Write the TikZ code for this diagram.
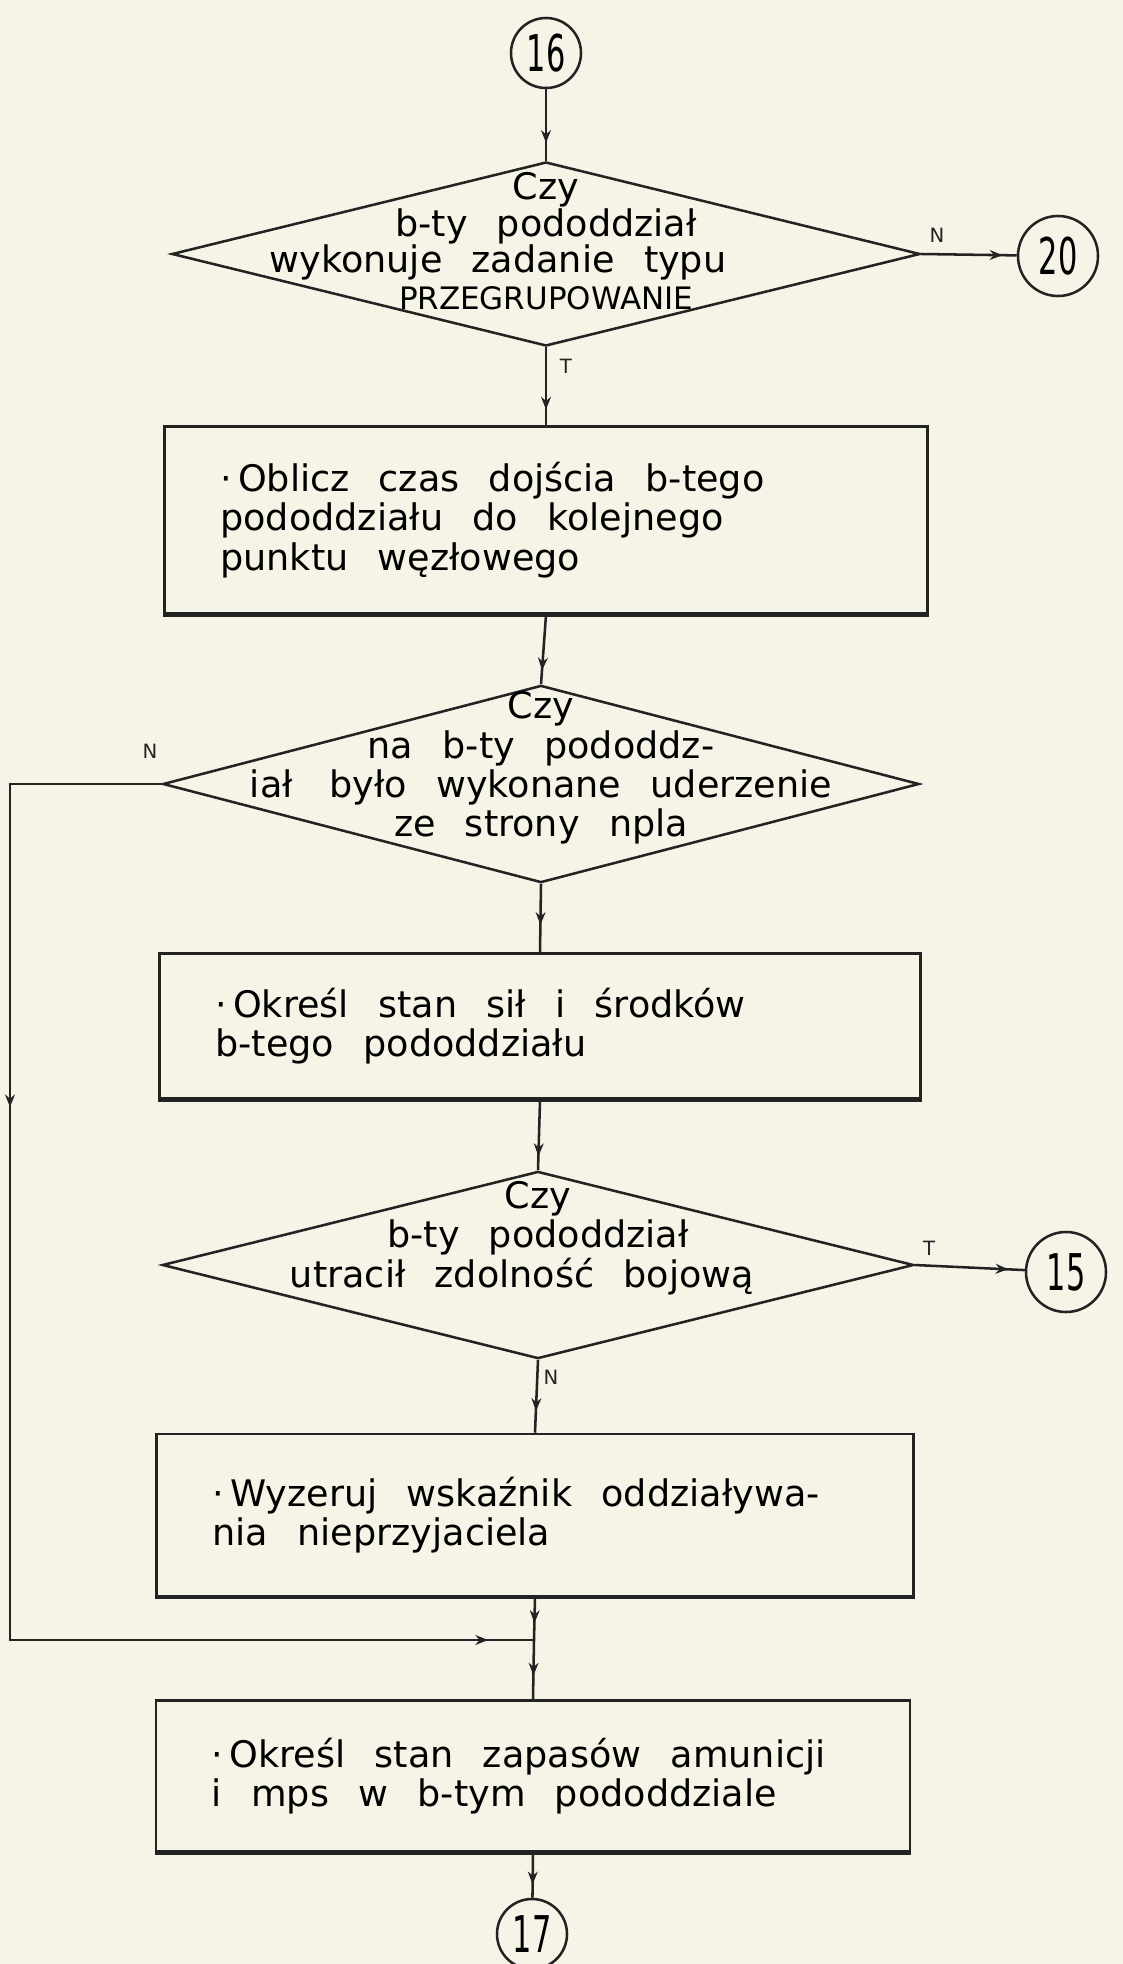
\documentclass[tikz,border=0pt]{standalone}
\usepackage{fontspec}
\usepackage{graphicx}
\setmainfont{DejaVu Sans}
\usetikzlibrary{shapes.geometric,arrows.meta,decorations.markings}

\definecolor{paper}{RGB}{246,244,230}
\definecolor{ink}{RGB}{35,35,35}

\newcommand{\hand}{\fontsize{26}{28}\selectfont}
\newcommand{\wide}{\spaceskip=.8em\relax}
\newcommand{\digits}[1]{\scalebox{.6}[1]{#1}}

\tikzset{
	line/.style = {draw = ink, line width = 1.8pt},
	decision/.style = {line, diamond, inner sep = 0pt},
	box/.style = {line, rectangle, align = left, inner xsep = 1.4cm, font = \hand, execute at begin node = \wide},
	conn/.style = {line, circle, inner sep = 0pt, font = \fontsize{36}{36}\selectfont},
	note/.style = {align = center, font = \hand, execute at begin node = \wide},
	tag/.style = {font = \fontsize{14}{14}\selectfont, text = ink},
	flow/.style = {line, decoration = {markings, mark = at position #1 with {\arrow{Stealth[length = 9pt, width = 7pt]}}}, postaction = {decorate}},
	flow/.default = 0.8
}

\begin{document}
\begin{tikzpicture} [x = 0.025cm, y = -0.025cm]
	\fill [paper] (0,0) rectangle (1123,1964);
	\useasboundingbox (0,0) rectangle (1123,1964);

	% connectors between pages
	\node [conn, minimum size = 1.75cm] (c16) at (546,53) {\digits{16}};
	\node [conn, minimum size = 2cm] (c20) at (1058,256) {\digits{20}};
	\node [conn, minimum size = 2cm] (c15) at (1066,1272) {\digits{15}};
	\node [conn, minimum size = 1.75cm] (c17) at (532,1934) {\digits{17}};

	% first question
	\node [decision, minimum width = 18.7cm, minimum height = 4.6cm] (d1) at (546,254) {};
	\node [note, font = \fontsize{26}{26}\selectfont] (d1t) at (546,241) {Czy\\ b-ty pododdział\\ wykonuje zadanie typu\rule{2.4cm}{0pt}\\ {\fontsize{22}{26}\selectfont PRZEGRUPOWANIE}};

	\node [box, text width = 16.28cm, minimum height = 4.68cm] (box1) at (546,520)
		{·\,Oblicz czas dojścia b-tego\\ pododdziału do kolejnego\\ punktu węzłowego};

	% second question
	\node [decision, minimum width = 18.9cm, minimum height = 4.93cm] (d2) at (541,784) {};
	\node [note] (d2t) at (541,768) {Czy\\ na b-ty pododdz-\\ iał\quad było wykonane uderzenie\\ ze strony npla};

	\node [box, text width = 16.22cm, minimum height = 3.63cm] (box2) at (540,1026)
		{·\,Określ stan sił i środków\\ b-tego pododdziału};

	% third question
	\node [decision, minimum width = 18.78cm, minimum height = 4.68cm] (d3) at (538,1265) {};
	\node [note] (d3t) at (538,1238) {Czy\\ b-ty pododdział\\ utracił zdolność bojową\rule{0.8cm}{0pt}};

	\node [box, text width = 16.12cm, minimum height = 4.05cm] (box3) at (535,1515)
		{·\,Wyzeruj wskaźnik oddziaływa-\\ nia nieprzyjaciela};

	\node [box, text width = 16.05cm, minimum height = 3.78cm] (box4) at (533,1776)
		{·\,Określ stan zapasów amunicji\\ i mps w b-tym pododdziale};

	\coordinate (bend) at (10,1640);
	\coordinate (join) at (534,1640);

	% heavier bottom edges
	\foreach \b in {box1,box2,box3,box4}
		\draw [line, line width = 3pt] (\b.south west) -- (\b.south east);

	% answers
	\node [tag] (n1) at (937,235) {N};
	\node [tag] (t1) at (566,366) {T};
	\node [tag] (n2) at (150,751) {N};
	\node [tag] (t3) at (929,1248) {T};
	\node [tag] (n3) at (551,1377) {N};

	% flow
	\draw [flow = 0.75] (c16) -- (d1.north);
	\draw [flow = 0.85] (d1.east) -- (c20);
	\draw [flow = 0.8] (d1.south) -- (box1.north);
	\draw [flow = 0.8] (box1.south) -- (d2.north);
	\draw [flow = 0.6] (d2.south) -- (box2.north);
	\draw [flow = 0.8] (box2.south) -- (d3.north);
	\draw [flow = 0.85] (d3.east) -- (c15);
	\draw [flow = 0.7] (d3.south) -- (box3.north);
	\draw [flow = 0.6] (box3.south) -- (join);
	\draw [flow = 0.6] (join) -- (box4.north);
	\draw [flow = 0.7] (box4.south) -- (c17);
	\draw [line, decoration = {markings,
			mark = at position 0.31 with {\arrow{Stealth[length = 9pt, width = 7pt]}},
			mark = at position 0.97 with {\arrow{Stealth[length = 9pt, width = 7pt]}}},
		postaction = {decorate}] (d2.west) -| (bend) -- (join);
\end{tikzpicture}
\end{document}
